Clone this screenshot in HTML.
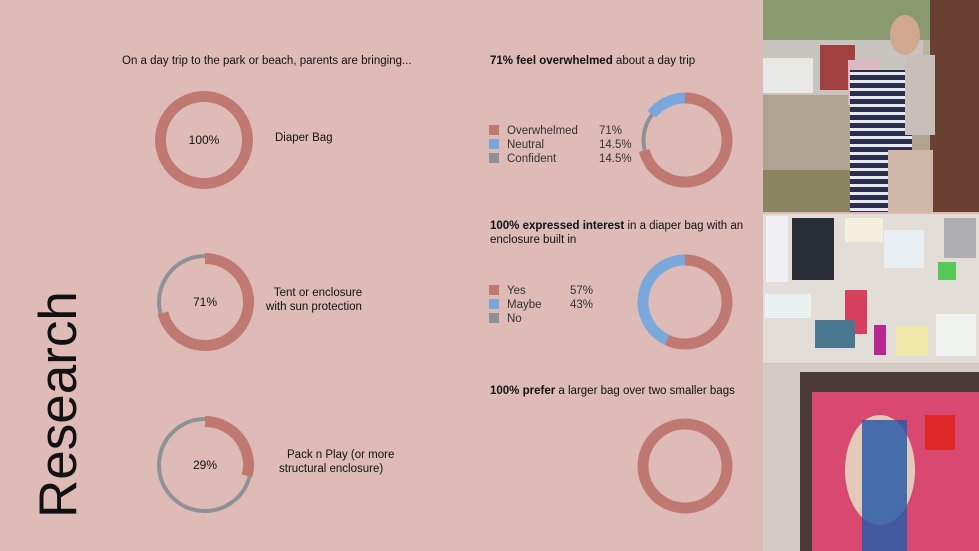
<!DOCTYPE html>
<html><head><meta charset="utf-8"><style>
html,body{margin:0;padding:0}
body{width:979px;height:551px;overflow:hidden;background:#dfbbb8;font-family:"Liberation Sans",sans-serif}
</style></head><body>
<svg width="979" height="551" viewBox="0 0 979 551" xmlns="http://www.w3.org/2000/svg" style="display:block">
<rect width="979" height="551" fill="#dfbbb8"/>
<g font-family="Liberation Sans, sans-serif" fill="#111" font-size="11.5">
<text x="122" y="64">On a day trip to the park or beach, parents are bringing...</text>
<text x="275" y="141">Diaper Bag</text>
<text x="318" y="296" text-anchor="middle">Tent or enclosure</text>
<text x="314" y="310" text-anchor="middle">with sun protection</text>
<text x="287" y="458">Pack n Play (or more</text>
<text x="279" y="472">structural enclosure)</text>
<text x="490" y="64"><tspan font-weight="bold">71% feel overwhelmed</tspan> about a day trip</text>
<text x="490" y="229"><tspan font-weight="bold">100% expressed interest</tspan> in a diaper bag with an</text>
<text x="490" y="243">enclosure built in</text>
<text x="490" y="394"><tspan font-weight="bold">100% prefer</tspan> a larger bag over two smaller bags</text>
</g>
<text transform="translate(76,518) rotate(-90)" font-family="Liberation Sans, sans-serif" font-size="53" fill="#111">Research</text>
<g id="charts"></g>
<g id="legends" font-family="Liberation Sans, sans-serif" font-size="11.5" fill="#333"></g>
<g>
<rect x="763" y="0" width="216" height="212" fill="#b8b4a8"/>
<rect x="763" y="0" width="216" height="40" fill="#8a9a70"/>
<rect x="763" y="40" width="160" height="55" fill="#c8c4c0"/>
<rect x="763" y="58" width="50" height="35" fill="#e8e8e6"/>
<rect x="820" y="45" width="35" height="45" fill="#a04040"/>
<rect x="763" y="95" width="216" height="117" fill="#b0a490"/>
<rect x="763" y="170" width="100" height="42" fill="#8a8460"/>
<rect x="930" y="0" width="49" height="212" fill="#6a4032"/>
<rect x="848" y="60" width="32" height="45" fill="#e0b8c4"/>
<ellipse cx="905" cy="35" rx="15" ry="20" fill="#d0a890"/>
<rect x="850" y="70" width="62" height="142" fill="#2a2e4a"/>
<rect x="850" y="70" width="62" height="142" fill="url(#stripes)"/>
<rect x="905" y="55" width="30" height="80" fill="#c8c0b8"/>
<rect x="888" y="150" width="45" height="62" fill="#d0b8a8"/>
</g>
<defs><pattern id="stripes" width="8" height="8" patternUnits="userSpaceOnUse"><rect width="8" height="3" fill="#e8e8ec"/></pattern></defs>
<g>
<rect x="763" y="214" width="216" height="149" fill="#e2ddd6"/>
<rect x="766" y="216" width="22" height="66" fill="#f0f0f4"/>
<rect x="792" y="218" width="42" height="62" fill="#2a2e36"/>
<rect x="845" y="218" width="38" height="24" fill="#f4eedc"/>
<rect x="884" y="230" width="40" height="38" fill="#e8eef2"/>
<rect x="944" y="218" width="32" height="40" fill="#b0b0b4"/>
<rect x="938" y="262" width="18" height="18" fill="#58c858"/>
<rect x="845" y="290" width="22" height="44" fill="#d84060"/>
<rect x="765" y="294" width="46" height="24" fill="#e8f0f0"/>
<rect x="815" y="320" width="40" height="28" fill="#4a7890"/>
<rect x="874" y="325" width="12" height="30" fill="#b82890"/>
<rect x="896" y="326" width="32" height="30" fill="#f0e8a8"/>
<rect x="936" y="314" width="40" height="42" fill="#f0f2f0"/>
</g>
<g>
<rect x="763" y="364" width="216" height="187" fill="#d4ccc4"/>
<rect x="800" y="372" width="179" height="179" fill="#4a3a38"/>
<rect x="812" y="392" width="167" height="159" fill="#d84870"/>
<ellipse cx="880" cy="470" rx="35" ry="55" fill="#e4c8b8"/>
<rect x="862" y="420" width="45" height="131" fill="#2a5ca8" opacity="0.85"/>
<rect x="925" y="415" width="30" height="35" fill="#e02828"/>
</g>
<script>
const chartIds = ['diaper-bag','tent','pack-n-play','overwhelmed','interest','prefer'];
const centersX = [204,205,205,685,685,685];
const centersY = [140,302,465,140,302,466];
const segValues = [[100],[71,29],[29,71],[71,14.5,14.5],[57,43],[100]];
const segColors = [['#c07872'],['#c07872','#8f9294'],['#c07872','#8f9294'],['#c07872','#8f9294','#7aa8dc'],['#c07872','#7aa8dc'],['#c07872']];
const centerLabels = ['100%','71%','29%','','',''];
const legendLabels = [['Overwhelmed','Neutral','Confident'],['Yes','Maybe','No']];
const legendValues = [['71%','14.5%','14.5%'],['57%','43%','']];
const legendColors = ['#c07872','#7aa8dc','#8f9294'];
const NS='http://www.w3.org/2000/svg';
const g=document.getElementById('charts');
function pt(cx,cy,r,frac){const a=frac*2*Math.PI-Math.PI/2;return [cx+r*Math.cos(a),cy+r*Math.sin(a)];}
chartIds.forEach((id,i)=>{
  const left=i<3, outer=left?49:47.5;
  const total=segValues[i].reduce((a,b)=>a+b,0);
  let acc=0;
  segValues[i].forEach((v,j)=>{
    const f0=acc/total, f1=(acc+v)/total; acc+=v;
    const col=segColors[i][j]; const thin=col==='#8f9294';
    const w=thin?4:11; const r=outer-(thin?(left?3:6):5.5);
    let el;
    if(f1-f0>=0.9999){el=document.createElementNS(NS,'circle');el.setAttribute('cx',centersX[i]);el.setAttribute('cy',centersY[i]);el.setAttribute('r',r);}
    else{const p0=pt(centersX[i],centersY[i],r,f0),p1=pt(centersX[i],centersY[i],r,f1);
      el=document.createElementNS(NS,'path');
      el.setAttribute('d',`M${p0[0]},${p0[1]} A${r},${r} 0 ${f1-f0>0.5?1:0} 1 ${p1[0]},${p1[1]}`);}
    el.setAttribute('fill','none');el.setAttribute('stroke',col);el.setAttribute('stroke-width',w);
    
    
    g.appendChild(el);
  });
  if(centerLabels[i]){const t=document.createElementNS(NS,'text');
    t.setAttribute('x',centersX[i]);t.setAttribute('y',centersY[i]+4);t.setAttribute('text-anchor','middle');
    t.setAttribute('font-size','12');t.setAttribute('fill','#111');t.textContent=centerLabels[i];
    
    
    g.appendChild(t);}
});
const lg=document.getElementById('legends');
const legendTop=[125,285];
legendLabels.forEach((labels,k)=>{
  labels.forEach((lab,j)=>{
    const y=legendTop[k]+j*14;
    const r=document.createElementNS(NS,'rect');
    r.setAttribute('x',489);r.setAttribute('y',y);r.setAttribute('width',10);r.setAttribute('height',10);r.setAttribute('fill',legendColors[j]);
    
    
    lg.appendChild(r);
    const t=document.createElementNS(NS,'text');t.setAttribute('x',507);t.setAttribute('y',y+9);t.textContent=lab;
    
    
    lg.appendChild(t);
    if(legendValues[k][j]){const v=document.createElementNS(NS,'text');v.setAttribute('x',k===0?599:570);v.setAttribute('y',y+9);v.textContent=legendValues[k][j];
      
      
      lg.appendChild(v);}
  });
});
</script>
</svg>
</body></html>
